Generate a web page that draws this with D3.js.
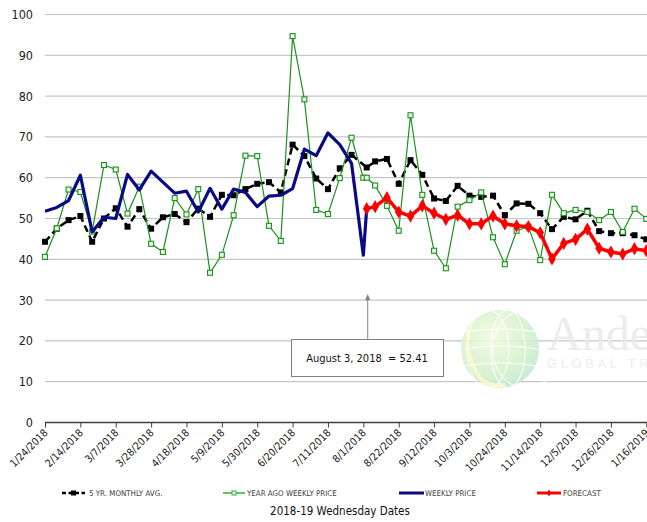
<!DOCTYPE html>
<html><head><meta charset="utf-8">
<script src="https://cdn.jsdelivr.net/npm/d3@7"></script>
<style>
html,body{margin:0;padding:0;background:#fff;}
svg{display:block;}
text{font-family:"DejaVu Sans Condensed","DejaVu Sans",sans-serif;}
</style></head>
<body>
<svg id="chart" width="647" height="522"></svg>
<script>
// ---- data ----
const dates = ["2018-01-24","2018-01-31","2018-02-07","2018-02-14","2018-02-21","2018-02-28","2018-03-07","2018-03-14","2018-03-21","2018-03-28","2018-04-04","2018-04-11","2018-04-18","2018-04-25","2018-05-02","2018-05-09","2018-05-16","2018-05-23","2018-05-30","2018-06-06","2018-06-13","2018-06-20","2018-06-27","2018-07-04","2018-07-11","2018-07-18","2018-07-25","2018-08-01","2018-08-03","2018-08-08","2018-08-15","2018-08-22","2018-08-29","2018-09-05","2018-09-12","2018-09-19","2018-09-26","2018-10-03","2018-10-10","2018-10-17","2018-10-24","2018-10-31","2018-11-07","2018-11-14","2018-11-21","2018-11-28","2018-12-05","2018-12-12","2018-12-19","2018-12-26","2019-01-02","2019-01-09","2019-01-16"];
const fiveYrAvg = [44.3,47.5,49.6,50.6,44.3,50.0,52.5,48.0,52.3,47.5,50.3,51.1,49.1,52.4,50.4,55.8,55.7,57.2,58.5,58.9,56.4,68.1,65.3,59.8,57.2,62.3,65.6,null,62.5,64.0,64.6,58.5,64.3,60.7,54.9,54.3,58.0,55.6,55.3,55.6,50.8,53.7,53.6,51.3,47.4,50.4,49.8,51.9,46.9,46.4,46.4,45.9,44.9];
const yearAgo = [40.6,47.6,57.1,56.5,46.8,63.1,62.0,51.2,57.8,43.8,41.8,55.0,51.0,57.2,36.7,41.1,50.8,65.4,65.3,48.2,44.5,94.7,79.2,52.1,51.1,59.9,69.8,60.0,60.0,58.1,53.1,47.0,75.3,55.8,42.1,37.8,52.9,54.5,56.4,45.4,38.8,47.0,48.0,39.8,55.8,51.3,52.1,51.6,49.6,51.6,46.7,52.4,49.9];
const weekly = [51.8,52.7,54.4,60.6,46.7,50.3,50.0,60.8,57.0,61.6,58.9,56.2,56.7,51.6,57.4,52.3,57.2,56.4,52.9,55.5,55.7,57.3,67.0,65.4,71.0,68.1,63.5,41.0,52.41,null,null,null,null,null,null,null,null,null,null,null,null,null,null,null,null,null,null,null,null,null,null,null,null];
const forecast = [null,null,null,null,null,null,null,null,null,null,null,null,null,null,null,null,null,null,null,null,null,null,null,null,null,null,null,null,52.41,52.9,55.1,51.6,50.6,53.1,51.3,49.8,50.8,48.7,48.7,50.6,48.7,48.2,48.0,46.5,40.1,43.9,44.9,47.4,42.7,41.8,41.3,42.6,42.1];
const tickLabels = ["1/24/2018","2/14/2018","3/7/2018","3/28/2018","4/18/2018","5/9/2018","5/30/2018","6/20/2018","7/11/2018","8/1/2018","8/22/2018","9/12/2018","10/3/2018","10/24/2018","11/14/2018","12/5/2018","12/26/2018","1/16/2019"];
const yTicks = [0,10,20,30,40,50,60,70,80,90,100];
const seriesNames = ["5 YR. MONTHLY AVG.","YEAR AGO WEEKLY PRICE","WEEKLY PRICE","FORECAST"];
const annotation = {date:"2018-08-03", text:"August 3, 2018  = 52.41"};
const xTitle = "2018-19 Wednesday Dates";

// ---- setup ----
const svg = d3.select("#chart");
const parseISO = d3.utcParse("%Y-%m-%d");
const parseUS = d3.utcParse("%m/%d/%Y");
const D = dates.map(parseISO);
const tickDates = tickLabels.map(parseUS);

const x = d3.scaleUtc().domain([tickDates[0], tickDates[tickDates.length-1]]).range([45, 646.3]);
const y = d3.scaleLinear().domain([0,100]).range([422.5, 14.5]);

// gridlines
svg.append("g").selectAll("line").data(yTicks.filter(d=>d>0)).join("line")
  .attr("x1",45).attr("x2",647).attr("y1",d=>y(d)).attr("y2",d=>y(d))
  .attr("stroke","#c6c6c6").attr("stroke-width",1.2);

// y labels
svg.append("g").selectAll("text").data(yTicks).join("text")
  .attr("x",33).attr("y",d=>y(d)).attr("dy","0.36em").attr("text-anchor","end")
  .attr("font-size",12.5).attr("fill","#222").text(d=>d);

// watermark
const wm = svg.append("g").attr("opacity",0.9);
const defs = svg.append("defs");
const rg = defs.append("radialGradient").attr("id","glb").attr("cx","40%").attr("cy","35%").attr("r","70%");
rg.append("stop").attr("offset","0%").attr("stop-color","#f3fbe0");
rg.append("stop").attr("offset","60%").attr("stop-color","#d9f3cf");
rg.append("stop").attr("offset","100%").attr("stop-color","#c2ead0");
wm.append("circle").attr("cx",500).attr("cy",349).attr("r",39).attr("fill","url(#glb)");
wm.append("path").attr("d","M470,325 Q462,352 480,378 Q490,388 505,385").attr("fill","none").attr("stroke","#f7f9c8").attr("stroke-width",4);
[[-12,0],[8,0],[26,0]].forEach(([dx])=>{
  wm.append("ellipse").attr("cx",500+dx).attr("cy",349).attr("rx",Math.abs(dx)*0.9+10).attr("ry",39).attr("fill","none").attr("stroke","#ffffff").attr("stroke-width",1.2).attr("opacity",0.8);
});
[332,349,366].forEach(cy=>{
  wm.append("path").attr("d",`M463,${cy} Q500,${cy-6} 538,${cy}`).attr("fill","none").attr("stroke","#fff").attr("stroke-width",1.2).attr("opacity",0.8);
});
wm.append("text").attr("x",547).attr("y",350).attr("font-size",48).attr("fill","#ebebeb").style("font-family","'Liberation Serif',serif").text("Andersons");
wm.append("text").attr("x",547).attr("y",368).attr("font-size",12.5).attr("letter-spacing",4).attr("fill","#ececec").style("font-family","'Liberation Sans',sans-serif").text("GLOBAL TRADING");

// x axis
const xAxis = svg.append("g").attr("transform",`translate(0,${y(0)})`)
  .call(d3.axisBottom(x).tickValues(tickDates).tickSize(5).tickFormat((d,i)=>tickLabels[i]));
xAxis.select(".domain").attr("stroke","#404040").attr("stroke-width",1.3).attr("d",`M45,0H647`);
xAxis.selectAll(".tick line").attr("stroke","#404040");
xAxis.selectAll(".tick text")
  .attr("font-size",10.5).attr("fill","#222")
  .attr("text-anchor","end").attr("dy",0).attr("y",0)
  .attr("transform","translate(3,11) rotate(-45)")
  .style("font-family","'DejaVu Sans Condensed','DejaVu Sans',sans-serif");

// ---- series ----
function pts(vals){ return vals.map((v,i)=>({d:D[i],v})).filter(p=>p.v!==null); }
const line = d3.line().x(p=>x(p.d)).y(p=>y(p.v));

// 5 yr avg
const black = pts(fiveYrAvg);
svg.append("path").datum(black).attr("d",line).attr("fill","none")
  .attr("stroke","#000").attr("stroke-width",2.5).attr("stroke-dasharray","7,4");
svg.append("g").selectAll("rect").data(black).join("rect")
  .attr("x",p=>x(p.d)-3).attr("y",p=>y(p.v)-3).attr("width",6).attr("height",6).attr("fill","#000");

// year ago
const green = pts(yearAgo);
svg.append("path").datum(green).attr("d",line).attr("fill","none")
  .attr("stroke","#1e901e").attr("stroke-width",1.2);
svg.append("g").selectAll("rect").data(green).join("rect")
  .attr("x",p=>x(p.d)-2.5).attr("y",p=>y(p.v)-2.5).attr("width",5).attr("height",5)
  .attr("fill","#eaf7ea").attr("stroke","#1e901e").attr("stroke-width",1.1);

// weekly
const blue = pts(weekly);
svg.append("path").datum(blue).attr("d",line).attr("fill","none")
  .attr("stroke","#0a0a82").attr("stroke-width",3.2).attr("stroke-linejoin","round");

// forecast
const red = pts(forecast);
svg.append("path").datum(red).attr("d",line).attr("fill","none")
  .attr("stroke","#ff0000").attr("stroke-width",3.5).attr("stroke-linejoin","round");
svg.append("g").selectAll("path").data(red).join("path")
  .attr("d",d3.symbol().type(d3.symbolDiamond).size(50))
  .attr("transform",p=>`translate(${x(p.d)},${y(p.v)})`).attr("fill","#ff0000");

// annotation
const ax = x(parseISO(annotation.date));
svg.append("line").attr("x1",ax+1).attr("x2",ax+1).attr("y1",339).attr("y2",297)
  .attr("stroke","#808080").attr("stroke-width",1);
svg.append("path").attr("d",`M${ax+1},294 l-2.5,6 h5 z`).attr("fill","#808080");
svg.append("rect").attr("x",291.5).attr("y",339.5).attr("width",152).attr("height",37)
  .attr("fill","#fff").attr("stroke","#808080").attr("stroke-width",1);
svg.append("text").attr("x",367).attr("y",362).attr("text-anchor","middle")
  .attr("font-size",11).attr("fill","#111").attr("xml:space","preserve").text(annotation.text);

// legend
const lg = svg.append("g").attr("transform","translate(0,493)");
const items = [
  {x0:62,x1:85,tx:89,color:"#000",w:2.5,dash:"4,2.5",mk:"sq"},
  {x0:223,x1:245,tx:247,color:"#3aaa3a",w:1.5,dash:null,mk:"osq"},
  {x0:399,x1:424,tx:425,color:"#0a0a82",w:3,dash:null,mk:null},
  {x0:537,x1:561,tx:563,color:"#ff0000",w:3,dash:null,mk:"dia"}
];
items.forEach((it,i)=>{
  lg.append("line").attr("x1",it.x0).attr("x2",it.x1).attr("y1",0).attr("y2",0)
    .attr("stroke",it.color).attr("stroke-width",it.w).attr("stroke-dasharray",it.dash);
  const mx=(it.x0+it.x1)/2;
  if(it.mk==="sq") lg.append("rect").attr("x",mx-2.5).attr("y",-2.5).attr("width",5).attr("height",5).attr("fill","#000");
  if(it.mk==="osq") lg.append("rect").attr("x",mx-2).attr("y",-2).attr("width",4).attr("height",4).attr("fill","#eaf7ea").attr("stroke",it.color);
  if(it.mk==="dia") lg.append("path").attr("d",d3.symbol().type(d3.symbolDiamond).size(14)).attr("transform",`translate(${mx},0)`).attr("fill","#ff0000");
  lg.append("text").attr("x",it.tx).attr("y",0).attr("dy","0.36em").attr("font-size",7.9)
    .attr("fill","#404040").text(seriesNames[i]);
});

// x title
svg.append("text").attr("x",340).attr("y",515).attr("text-anchor","middle")
  .attr("font-size",11.5).attr("fill","#111").text(xTitle);
</script>
</body></html>
